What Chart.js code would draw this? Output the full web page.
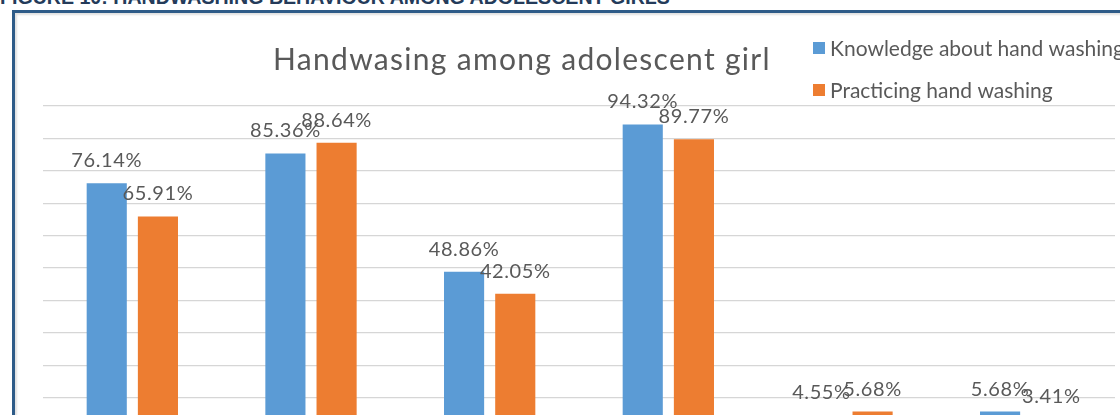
<!DOCTYPE html>
<html>
<head>
<meta charset="utf-8">
<script src="https://cdn.jsdelivr.net/npm/chart.js@4.4.1/dist/chart.umd.min.js"></script>
<style>
  html, body { margin: 0; padding: 0; background: #fff; }
  body { width: 1120px; height: 415px; overflow: hidden; position: relative; }
  #caption {
    position: absolute; left: 0; top: -12px; white-space: nowrap;
    font-family: "Liberation Sans", Arial, sans-serif; font-weight: bold;
    font-size: 19.6px; line-height: 1; color: #243b5a;
  }
  #frame {
    position: absolute; left: 12px; top: 10px; width: 1200px; height: 500px;
    border-top: 3px solid #2e5b88; border-left: 3px solid #2e5b88;
    box-shadow: inset 2px 2px 2px rgba(0,0,0,0.12);
  }
  #c { position: absolute; left: 0; top: 0; }
</style>
</head>
<body>
<div id="caption">FIGURE 10: HANDWASHING BEHAVIOUR AMONG ADOLESCENT GIRLS</div>
<div id="frame"></div>
<canvas id="c" width="1120" height="480"></canvas>
<script>
// ---- data ----
const chartTitle = "Handwasing among adolescent girl";
const categories = ["Item 1", "Item 2", "Item 3", "Item 4", "Item 5", "Item 6"];
const seriesNames = ["Knowledge about hand washing", "Practicing hand washing"];
const knowledgeValues = [76.14, 85.36, 48.86, 94.32, 4.55, 5.68];
const practiceValues = [65.91, 88.64, 42.05, 89.77, 5.68, 3.41];
const yTicks = [0, 10, 20, 30, 40, 50, 60, 70, 80, 90, 100];

const BLUE = "#5b9bd5", ORANGE = "#ed7d31", TEXT = "#595959";
const FONT = "Lato, 'Open Sans', sans-serif";

const decorPlugin = {
  id: "decor",
  afterDatasetsDraw(chart) {
    const ctx = chart.ctx;
    ctx.save();
    // data labels
    ctx.font = "20px " + FONT;
    ctx.letterSpacing = "0.6px";
    ctx.fillStyle = TEXT;
    ctx.textAlign = "center";
    ctx.textBaseline = "alphabetic";
    chart.data.datasets.forEach((ds, i) => {
      const meta = chart.getDatasetMeta(i);
      meta.data.forEach((bar, j) => {
        ctx.fillText(ds.data[j].toFixed(2) + "%", bar.x, bar.y - 16);
      });
    });
    // title
    ctx.font = "30px " + FONT;
    ctx.letterSpacing = "1.3px";
    ctx.textAlign = "center";
    ctx.fillText(chartTitle, 522, 70);
    // legend
    ctx.font = "21px " + FONT;
    ctx.letterSpacing = "0px";
    ctx.textAlign = "left";
    chart.data.datasets.forEach((ds, i) => {
      const y = 56 + i * 42;
      ctx.fillStyle = ds.backgroundColor;
      ctx.fillRect(813, y - 14, 12, 12);
      ctx.fillStyle = TEXT;
      ctx.fillText(ds.label, 830, y);
    });
    ctx.restore();
  }
};

new Chart(document.getElementById("c"), {
  type: "bar",
  data: {
    labels: categories,
    datasets: [
      { label: seriesNames[0], data: knowledgeValues, backgroundColor: BLUE },
      { label: seriesNames[1], data: practiceValues, backgroundColor: ORANGE }
    ]
  },
  options: {
    responsive: false,
    animation: false,
    devicePixelRatio: 1,
    categoryPercentage: 0.573,
    barPercentage: 0.784,
    layout: { padding: { left: 43, top: 106, right: 5, bottom: 50 } },
    plugins: { legend: { display: false }, title: { display: false }, tooltip: { enabled: false } },
    scales: {
      x: {
        ticks: { display: false },
        grid: { display: false, drawTicks: false },
        border: { display: false }
      },
      y: {
        min: yTicks[0], max: yTicks[yTicks.length - 1],
        afterBuildTicks(scale) { scale.ticks = yTicks.map(v => ({ value: v })); },
        ticks: { display: false },
        grid: { color: "#d6d6d6", lineWidth: 1.2, drawTicks: false },
        border: { display: false }
      }
    }
  },
  plugins: [decorPlugin]
});
</script>
</body>
</html>
